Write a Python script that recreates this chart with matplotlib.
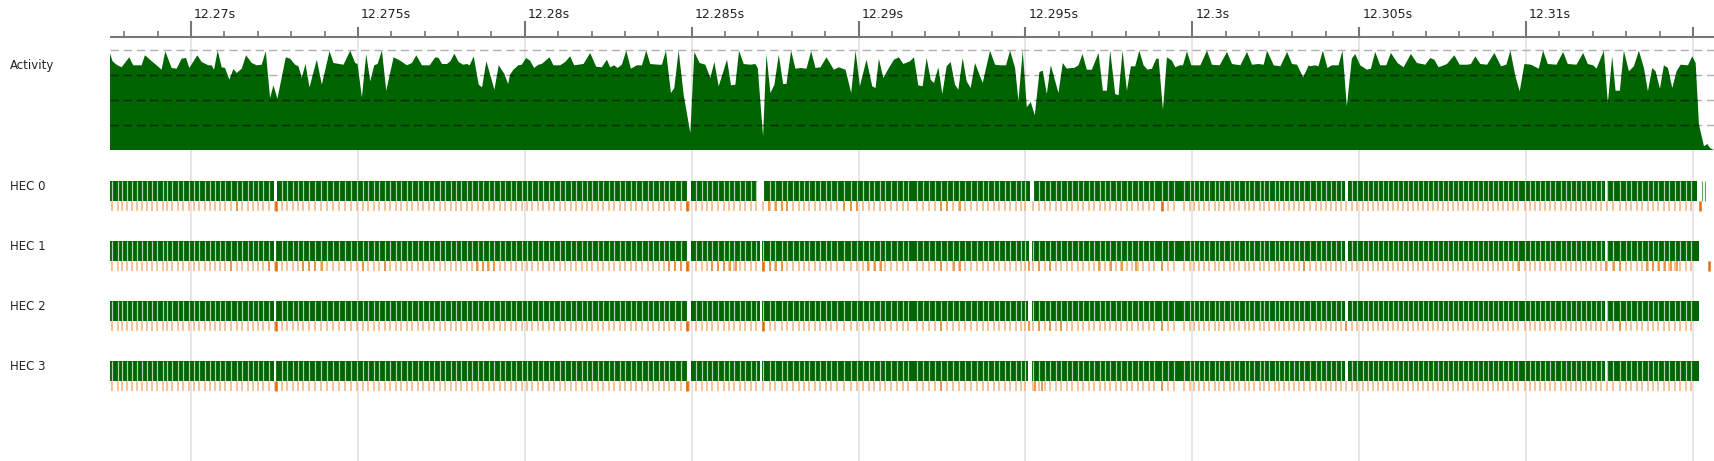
import matplotlib
matplotlib.use("Agg")
import matplotlib.pyplot as plt
from matplotlib.patches import Polygon
from matplotlib.transforms import offset_copy

W, H = 1715, 461
T0, T1 = 7.573, 55.66          # ms after 12.26 s, left/right edge of the timeline

# ---------------- activity profile (percent of 4 HECs busy) ----------------
act_t = [7.57, 7.65, 7.77, 7.92, 8.15, 8.27, 8.37, 8.52, 8.62, 8.77, 8.97, 9.12, 9.23, 9.42, 9.57, 9.72,
         9.85, 9.95, 10.19, 10.32, 10.52, 10.62, 10.69, 10.80, 10.92, 11.02, 11.15, 11.27, 11.37, 11.52,
         11.65, 11.82, 11.97, 12.12, 12.24, 12.37, 12.47, 12.59, 12.84, 12.97, 13.12, 13.22, 13.32, 13.43,
         13.55, 13.77, 13.92, 14.15, 14.27, 14.57, 14.77, 14.92, 14.99, 15.12, 15.25, 15.37, 15.49, 15.59,
         15.72, 15.85, 16.07, 16.27, 16.47, 16.62, 16.75, 16.92, 17.15, 17.32, 17.42, 17.52, 17.67, 17.77,
         17.89, 18.02, 18.15, 18.27, 18.35, 18.47, 18.62, 18.72, 18.85, 19.09, 19.22, 19.39, 19.50,
         19.56, 19.66, 19.81, 19.91, 20.04, 20.16, 20.28, 20.41, 20.51, 20.74, 20.86, 21.06, 21.21, 21.36,
         21.48, 21.76, 21.96, 22.14, 22.31, 22.46, 22.56, 22.68, 22.78, 22.91, 23.04, 23.18, 23.36, 23.51,
         23.64, 23.76, 24.01, 24.11, 24.23, 24.38, 24.48, 24.61, 24.76, 24.96, 25.08, 25.24, 25.41, 25.56,
         25.68, 25.81, 26.06, 26.18, 26.31, 26.42, 26.56, 26.76, 26.91, 26.98, 27.14, 27.24, 27.36, 27.48,
         27.61, 27.74, 27.84, 27.98, 28.11, 28.26, 28.44, 28.58, 28.71, 28.86, 29.04, 29.26, 29.41, 29.61,
         29.78, 29.91, 30.04, 30.24, 30.41, 30.51, 30.61, 30.74, 30.91, 31.06, 31.21, 31.34,
         31.54, 31.66, 31.79, 31.92, 32.04, 32.16, 32.26, 32.39, 32.51, 32.64, 32.76, 32.89, 32.99, 33.12,
         33.24, 33.36, 33.49, 33.72, 33.94, 34.09, 34.24, 34.42, 34.54, 34.69, 34.79, 34.92, 35.04, 35.16,
         35.28, 35.42, 35.52, 35.64, 35.76, 35.99, 36.12, 36.24, 36.36, 36.46, 36.59, 36.71, 36.84, 36.99,
         37.19, 37.32, 37.44, 37.54, 37.69, 37.79, 37.91, 38.04, 38.16, 38.29, 38.41, 38.54, 38.66, 38.79,
         38.92, 38.99, 39.12, 39.24, 39.39, 39.49, 39.62, 39.72, 39.84, 39.97, 40.24, 40.44, 40.59, 40.82,
         41.04, 41.19, 41.44, 41.64, 41.79, 41.99, 42.14, 42.24, 42.44, 42.64, 42.84, 42.99, 43.14, 43.32,
         43.49, 43.53, 43.68, 43.78, 43.91, 44.05, 44.18, 44.38, 44.50, 44.63, 44.78, 44.88, 45.03, 45.23,
         45.35, 45.48, 45.63, 45.81, 45.95, 46.15, 46.33, 46.55, 46.73, 46.98, 47.13, 47.25, 47.38, 47.63,
         47.85, 48.01, 48.23, 48.35, 48.48, 48.63, 48.83, 49.05, 49.25, 49.41, 49.53, 49.68, 49.81, 49.95,
         50.15, 50.38, 50.51, 50.65, 50.91, 51.11, 51.25, 51.51, 51.71, 51.85, 52.01, 52.11, 52.33, 52.45,
         52.58, 52.68, 52.81, 52.93, 53.08, 53.23, 53.38, 53.53, 53.65, 53.78, 53.88, 54.01, 54.13, 54.25,
         54.38, 54.51, 54.63, 54.85, 54.98, 55.08, 55.18, 55.33, 55.43, 55.51, 55.63]
act_v = [97.0, 88.7, 85.3, 82.7, 92.7, 84.7, 84.7, 84.7, 94.7, 90.3, 84.7, 80.3, 98.7, 82.0, 81.3, 91.3,
         92.0, 82.0, 94.7, 88.0, 84.7, 84.7, 80.3, 99.3, 82.7, 82.0, 70.3, 81.0, 77.0, 81.3,
         94.7, 87.0, 84.7, 85.3, 98.7, 52.0, 64.7, 51.3, 92.7, 91.3, 85.3, 83.7, 72.0, 86.0,
         62.7, 90.3, 65.3, 98.7, 87.0, 85.3, 99.3, 87.0, 86.0, 52.7, 96.0, 68.7, 84.7, 86.0,
         99.3, 59.3, 92.7, 89.3, 84.7, 87.0, 94.7, 84.7, 84.7, 92.7, 92.0, 86.0, 86.0, 88.7,
         96.3, 88.0, 85.3, 86.0, 84.7, 93.7, 65.3, 62.7, 88.7, 60.3, 84.7, 76.0, 66.0,
         75.3, 80.3, 84.7, 85.3, 92.0, 89.3, 82.0, 85.3, 86.0, 92.7, 84.7, 84.7, 88.0, 93.7,
         84.7, 86.0, 97.0, 83.3, 82.7, 90.3, 82.7, 84.7, 82.0, 85.3, 99.3, 81.3, 84.7, 84.7,
         99.3, 86.0, 85.3, 85.3, 99.3, 57.0, 62.0, 99.3, 55.3, 17.0, 98.0, 87.0, 85.3, 72.0,
         88.0, 63.7, 90.3, 64.7, 65.3, 99.3, 86.0, 85.3, 86.0, 82.0, 13.7, 96.0, 57.0, 65.3,
         95.3, 66.0, 66.0, 99.3, 81.3, 82.0, 81.3, 98.7, 82.0, 82.7, 92.7, 80.3, 82.7, 80.3,
         57.0, 99.3, 63.7, 90.3, 63.7, 62.0, 91.3, 72.0, 82.0, 90.3, 92.7, 86.0,
         88.7, 92.7, 64.7, 63.7, 92.0, 70.3, 67.0, 82.7, 56.0, 83.7, 88.0, 65.3, 60.3, 92.0,
         68.7, 62.0, 87.0, 67.0, 99.3, 85.3, 84.7, 84.7, 99.3, 82.0, 49.3, 99.3, 42.7, 48.0,
         34.7, 78.0, 79.3, 56.0, 84.7, 57.0, 87.0, 81.3, 82.0, 82.0, 84.7, 96.0, 80.3, 80.3,
         97.0, 59.3, 59.3, 99.3, 56.0, 54.7, 99.3, 59.3, 83.7, 83.7, 99.3, 84.7, 80.3, 81.3,
         91.3, 91.3, 40.3, 92.7, 89.3, 82.7, 84.7, 84.7, 98.7, 84.7, 84.7, 99.3, 85.3, 84.7,
         98.0, 86.0, 84.7, 98.0, 85.3, 86.0, 85.3, 99.3, 84.7, 83.7, 98.0, 86.0, 85.3, 72.7,
         84.7, 83.7, 84.7, 83.7, 99.3, 82.0, 84.7, 84.7, 99.3, 43.7, 91.3, 96.0, 84.7, 80.3,
         81.3, 98.0, 84.7, 84.7, 97.0, 87.0, 82.7, 96.0, 87.0, 85.3, 92.0, 90.3, 82.7, 86.0,
         94.7, 85.3, 85.3, 86.0, 93.7, 86.0, 85.3, 97.0, 83.7, 85.3, 99.3, 73.7, 58.7, 86.0,
         85.3, 81.3, 99.3, 86.0, 85.3, 98.0, 86.0, 85.3, 97.0, 86.0, 84.7, 81.3, 99.3, 47.0,
         93.7, 59.3, 59.3, 99.3, 78.7, 83.7, 99.3, 82.0, 58.7, 82.0, 78.7, 61.3, 84.7, 82.0,
         62.0, 78.7, 85.3, 84.7, 93.7, 87.0, 25.3, 3.7, 6.0, 2.0, 0.0]

# ---------------- GC events (ms after 12.26 s), shared by all HECs ----------------
gc_t = [7.645, 7.798, 7.941, 8.094, 8.238, 8.391, 8.544, 8.687, 8.841, 8.994, 9.147, 9.290, 9.444, 9.597,
        9.750, 9.935, 10.098, 10.251, 10.405, 10.558, 10.722, 10.875, 11.028, 11.202, 11.376, 11.540,
        11.693, 11.846, 11.999, 12.163, 12.327, 12.531, 12.736, 12.889, 13.042, 13.196, 13.369, 13.533,
        13.707, 13.891, 14.075, 14.249, 14.423, 14.607, 14.790, 14.974, 15.148, 15.312, 15.475, 15.639,
        15.813, 15.976, 16.140, 16.303, 16.467, 16.631, 16.794, 16.958, 17.121, 17.285, 17.448, 17.612,
        17.776, 17.939, 18.103, 18.266, 18.430, 18.593, 18.757, 18.921, 19.084, 19.248, 19.411, 19.575,
        19.738, 19.902, 20.065, 20.229, 20.393, 20.556, 20.720, 20.883, 21.047, 21.210, 21.374, 21.538,
        21.701, 21.865, 22.028, 22.192, 22.355, 22.519, 22.683, 22.846, 23.010, 23.173, 23.337, 23.500,
        23.685, 23.848, 24.012, 24.165, 24.319, 24.492, 24.666, 24.850, 24.932, 25.136, 25.300, 25.464,
        25.617, 25.780, 25.954, 26.118, 26.281, 26.445, 26.609, 26.772, 26.936, 27.130, 27.334, 27.508,
        27.692, 27.856, 28.030, 28.203, 28.367, 28.530, 28.694, 28.858, 29.021, 29.185, 29.348, 29.573,
        29.778, 29.962, 30.146, 30.309, 30.473, 30.636, 30.800, 30.964, 31.148, 31.321, 31.495, 31.740,
        31.924, 32.108, 32.292, 32.466, 32.640, 32.824, 33.008, 33.192, 33.376, 33.540, 33.724, 33.887,
        34.051, 34.215, 34.378, 34.542, 34.705, 34.869, 34.992, 35.237, 35.421, 35.585, 35.748, 35.912,
        36.075, 36.239, 36.402, 36.566, 36.730, 36.893, 37.057, 37.220, 37.384, 37.547, 37.711, 37.874,
        38.038, 38.201, 38.365, 38.529, 38.692, 38.856, 39.101, 39.264, 39.448,
        39.756, 39.919, 40.062, 40.205, 40.359, 40.512, 40.666, 40.809, 40.962, 41.115, 41.258, 41.412,
        41.565, 41.708, 41.862, 42.015, 42.158, 42.311, 42.465, 42.608, 42.761, 42.904, 43.058, 43.211,
        43.354, 43.538, 43.692, 43.845, 43.998, 44.141, 44.295, 44.448, 44.601, 44.796, 44.949, 45.102,
        45.256, 45.409, 45.552, 45.706, 45.859, 46.012, 46.155, 46.309, 46.462, 46.605, 46.758, 46.912,
        47.055, 47.208, 47.362, 47.505, 47.658, 47.811, 47.954, 48.108, 48.251, 48.404, 48.558, 48.711,
        48.854, 49.007, 49.161, 49.304, 49.457, 49.611, 49.754, 49.958, 50.112, 50.265, 50.418, 50.572,
        50.725, 50.878, 51.032, 51.185, 51.338, 51.491, 51.645, 51.798, 51.952, 52.105, 52.258, 52.412,
        52.596, 52.821, 52.984, 53.148, 53.312, 53.475, 53.639, 53.802, 53.966, 54.129, 54.293, 54.457,
        54.620, 54.784, 54.947]

hec_labels = ["HEC 0", "HEC 1", "HEC 2", "HEC 3"]
hec_end = [55.13, 55.17, 55.17, 55.17]
hec_slivers = [[55.26, 55.37], [], [], []]
hec_idle = [
    [(12.50, 12.58), (24.85, 24.99), (26.96, 27.17), (35.15, 35.27), (44.57, 44.65), (52.37, 52.43)],
    [(12.50, 12.56), (24.85, 24.99), (27.04, 27.10), (35.12, 35.20), (44.57, 44.65), (52.37, 52.43)],
    [(12.50, 12.56), (24.85, 24.99), (27.04, 27.10), (35.08, 35.20), (44.57, 44.65), (52.37, 52.43)],
    [(12.50, 12.56), (24.85, 24.99), (27.04, 27.10), (35.08, 35.20), (44.57, 44.65), (52.37, 52.43)],
]
hec_dark = [
    [12.55, 24.86, 39.08, 55.22],
    [12.55, 24.86, 27.14, 55.48],
    [12.55, 24.86, 27.13],
    [12.55, 24.86],
]
hec_mid = [
    [11.39, 27.32, 27.52, 27.70, 27.87, 29.57, 29.76, 29.95, 32.46, 32.66, 33.05],
    [11.20, 12.33, 13.36, 13.54, 13.72, 13.91, 15.14, 15.81, 18.56, 18.74, 18.91, 19.09, 24.32, 24.50,
     24.68, 25.62, 25.80, 25.97, 26.15, 26.32, 27.35, 27.52, 27.70, 30.29, 30.49, 30.67, 32.46, 32.85,
     33.05, 35.10, 35.40, 35.74, 37.20, 37.55, 37.90, 38.30, 39.08, 43.35, 49.80, 52.40, 52.62, 52.82,
     53.61, 53.79, 53.98, 54.16, 54.34, 54.51],
    [32.46, 35.10, 35.40, 35.74, 36.07, 39.08, 44.60, 52.82],
    [32.46, 35.30, 35.50, 39.08],
]

tick_ms = [10, 15, 20, 25, 30, 35, 40, 45, 50, 55]
tick_labels = ["12.27s", "12.275s", "12.28s", "12.285s", "12.29s", "12.295s", "12.3s", "12.305s",
               "12.31s", ""]
minor_ms = [8, 9, 11, 12, 13, 14, 16, 17, 18, 19, 21, 22, 23, 24, 26, 27, 28, 29, 31, 32, 33, 34,
            36, 37, 38, 39, 41, 42, 43, 44, 46, 47, 48, 49, 51, 52, 53, 54]

GREEN = "#006400"
ORANGE_LIGHT = "#f1b47c"
ORANGE_MID = "#ec923a"
ORANGE_DARK = "#e06c0c"

# ---------------- figure ----------------
fig = plt.figure(figsize=(W / 100, H / 100), dpi=100)
ax = fig.add_axes([110 / W, 0, 1 - 110 / W, 1])
ax.set_xlim(T0, T1)
ax.set_ylim(H, 0)
ax.axis("off")

# gridlines at major ticks
ax.vlines(tick_ms, 37, H, colors="#e4e4e4", lw=1.3, zorder=0)

# time axis
ax.hlines(37, T0, T1, colors="#777777", lw=1.5, zorder=3)
long_ticks = [t for t in tick_ms if t % 10 == 0]
mid_ticks = [t for t in tick_ms if t % 10 != 0]
ax.vlines(long_ticks, 21, 37, colors="#777777", lw=1.5, zorder=3)
ax.vlines(mid_ticks, 27, 37, colors="#777777", lw=1.5, zorder=3)
ax.vlines(minor_ms, 31, 37, colors="#777777", lw=1.2, zorder=3)
lab_tr = offset_copy(ax.transData, fig=fig, x=3, y=0, units="dots")
for t, lab in zip(tick_ms, tick_labels):
    ax.text(t, 14, lab, transform=lab_tr, ha="left", va="center", fontsize=9, color="#222222")

# activity graph
ACT_BOT, ACT_H = 150, 100
xs = [act_t[0]] + act_t + [act_t[-1]]
ys = [ACT_BOT] + [ACT_BOT - v * ACT_H / 100 for v in act_v] + [ACT_BOT]
poly = Polygon(list(zip(xs, ys)), closed=True, facecolor=GREEN, edgecolor="none", zorder=2)
ax.add_patch(poly)
for frac in [1.0, 0.75, 0.5, 0.25]:
    yy = ACT_BOT - frac * ACT_H
    ax.hlines(yy, T0, T1, colors="#b0b0b0", lw=1.0, linestyles=(0, (6, 3.5)), zorder=1)
    ln = ax.hlines(yy, T0, T1, colors="#0a2a0a", lw=1.0, linestyles=(0, (6, 3.5)), zorder=2.5)
    ln.set_clip_path(poly)

fig.text(10 / W, 1 - 65 / H, "Activity", ha="left", va="center", fontsize=8.5, color="#222222")

# HEC rows
for i, lab in enumerate(hec_labels):
    top = 181 + 60 * i
    fig.text(10 / W, 1 - (top + 5) / H, lab, ha="left", va="center", fontsize=8.5, color="#222222")
    ax.broken_barh([(T0, hec_end[i] - T0)], (top, 20), facecolors=GREEN, zorder=2)
    ax.broken_barh([(a, b - a) for a, b in hec_idle[i]], (top, 20), facecolors="white", zorder=2.2)
    if hec_slivers[i]:
        ax.vlines(hec_slivers[i], top, top + 20, colors=GREEN, lw=0.8, alpha=0.6, zorder=2)
    g = [t for t in gc_t if t < hec_end[i]]
    ax.vlines(g, top, top + 20, colors="white", lw=0.9, alpha=0.7, zorder=2.1)
    ax.vlines(g, top + 20, top + 30, colors=ORANGE_LIGHT, lw=1.1, zorder=2)
    ax.vlines(hec_mid[i], top + 20, top + 30, colors=ORANGE_MID, lw=1.3, zorder=2.2)
    ax.vlines(hec_dark[i], top + 20, top + 30, colors=ORANGE_DARK, lw=1.8, zorder=2.3)

fig.savefig("out.png", dpi=100)
